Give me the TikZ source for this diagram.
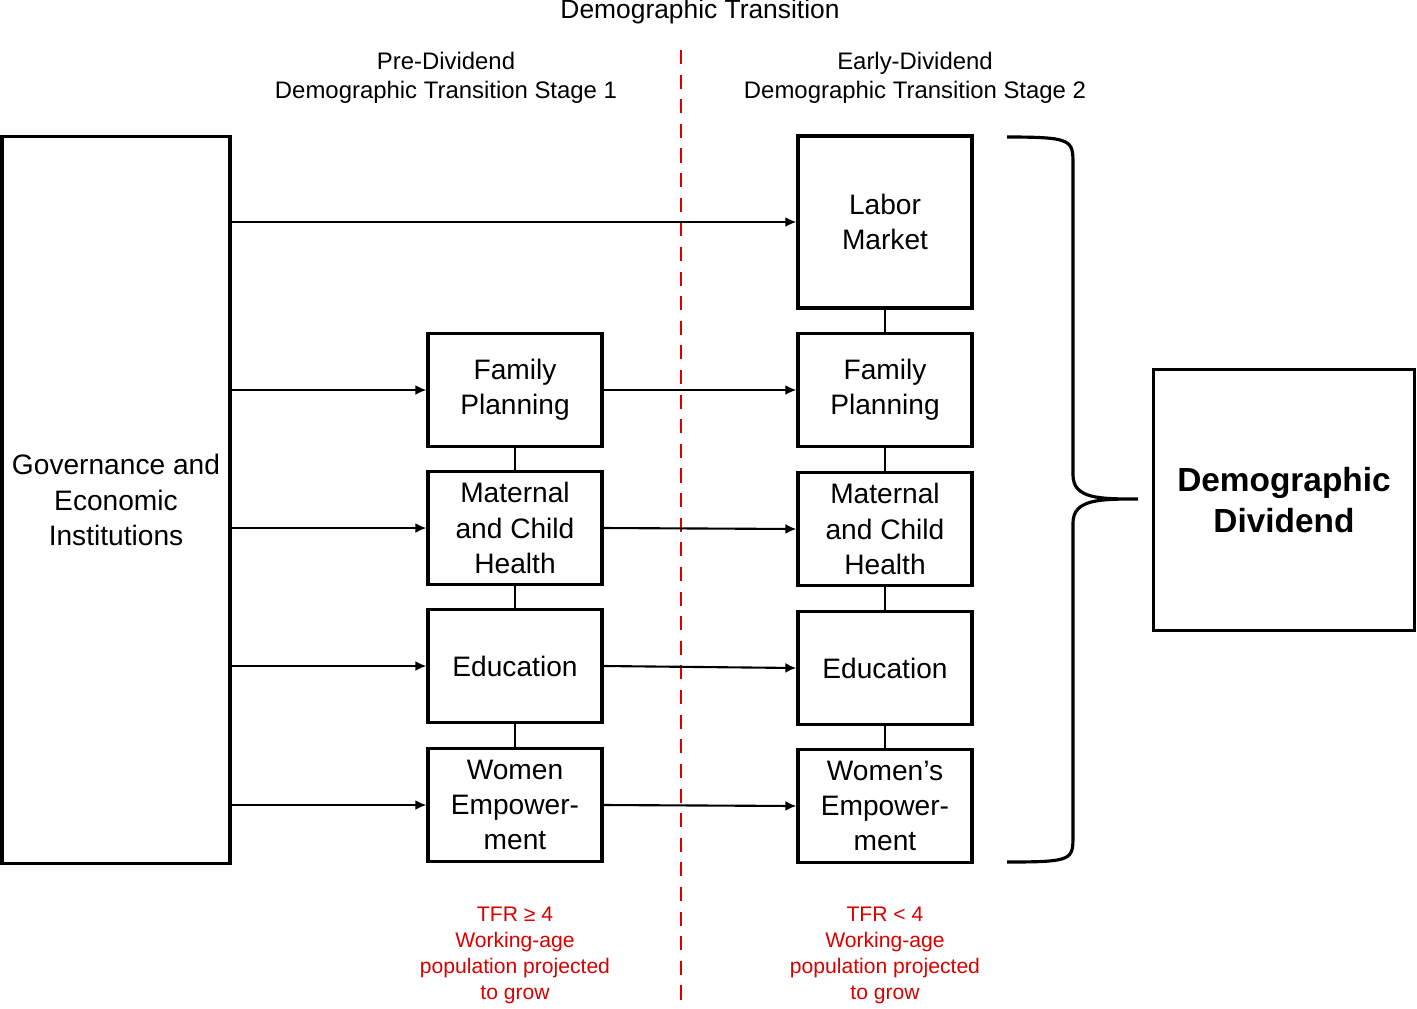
\documentclass[tikz,border=0pt]{standalone}
\usepackage{fontspec}
\setmainfont{Liberation Sans}
\usetikzlibrary{arrows.meta}
\tikzset{
	box/.style={draw, line width=0.9pt, inner sep=0pt, align=center, font=\fontsize{8}{10}\selectfont, minimum width=1.74cm, minimum height=1.13cm},
	flow/.style={line width=0.6pt, -{Latex[length=1.1mm, width=1mm]}},
	link/.style={line width=0.6pt},
	redtext/.style={align=center, text=red!85!black, font=\fontsize{6}{7.4}\selectfont}
}

\begin{document}
\begin{tikzpicture}[x=0.01cm, y=-0.01cm]
	\useasboundingbox (0,0) rectangle (1417,1008);
	\node[box, minimum width=2.28cm, minimum height=7.26cm] at (116,500) (gov) {Governance and\\Economic\\Institutions};
	
	\node[box] at (515,390) (fp-1) {Family\\Planning};
	\node[box] at (515,528) (mch-1) {Maternal\\and Child\\Health};
	\node[box] at (515,666) (edu-1) {Education};
	\node[box] at (515,805) (we-1) {Women\\Empower-\\ment};
	
	\node[box, minimum height=1.72cm] at (885,222) (labor) {Labor\\Market};
	\node[box] at (885,390) (fp-2) {Family\\Planning};
	\node[box] at (885,529) (mch-2) {Maternal\\and Child\\Health};
	\node[box] at (885,668) (edu-2) {Education};
	\node[box] at (885,806) (we-2) {Women’s\\Empower-\\ment};
	
	\node[box, minimum width=2.61cm, minimum height=2.61cm, font=\fontsize{9.5}{11.5}\selectfont\bfseries] at (1284,500) (dividend) {Demographic\\Dividend};
	
	\node[font=\fontsize{7.5}{9}\selectfont] at (700,12) (title) {Demographic Transition};
	\node[align=center, font=\fontsize{6.8}{8.3}\selectfont] at (446,78) (stage-1) {Pre-Dividend\\Demographic Transition Stage 1};
	\node[align=center, font=\fontsize{6.8}{8.3}\selectfont] at (915,78) (stage-2) {Early-Dividend\\Demographic Transition Stage 2};
	
	\draw[red!85!black, dashed, line width=0.7pt, dash pattern=on 4pt off 3pt] (681,50) -- (681,1000);
	
	\node[redtext] at (515,955) (tfr-1) {TFR ≥ 4\\Working-age\\population projected\\to grow};
	\node[redtext] at (885,955) (tfr-2) {TFR < 4\\Working-age\\population projected\\to grow};
	
	\draw[flow] (gov.east |- labor.west) -- (labor.west);
	\foreach \n in {fp, mch, edu, we} {
		\draw[flow] (gov.east |- \n-1.west) -- (\n-1.west);
		\draw[flow] (\n-1.east) -- (\n-2.west);
	}
	\draw[link] (fp-1) -- (mch-1) (mch-1) -- (edu-1) (edu-1) -- (we-1);
	\draw[link] (labor) -- (fp-2) (fp-2) -- (mch-2) (mch-2) -- (edu-2) (edu-2) -- (we-2);
	
	% brace
	\draw[line width=0.9pt] (1007,137) .. controls (1073,137) and (1073,140) .. (1073,165) -- (1073,475)
		.. controls (1073,499) and (1100,499) .. (1138,499)
		.. controls (1100,499) and (1073,499) .. (1073,523) -- (1073,835)
		.. controls (1073,860) and (1073,862) .. (1007,862);
\end{tikzpicture}
\end{document}
